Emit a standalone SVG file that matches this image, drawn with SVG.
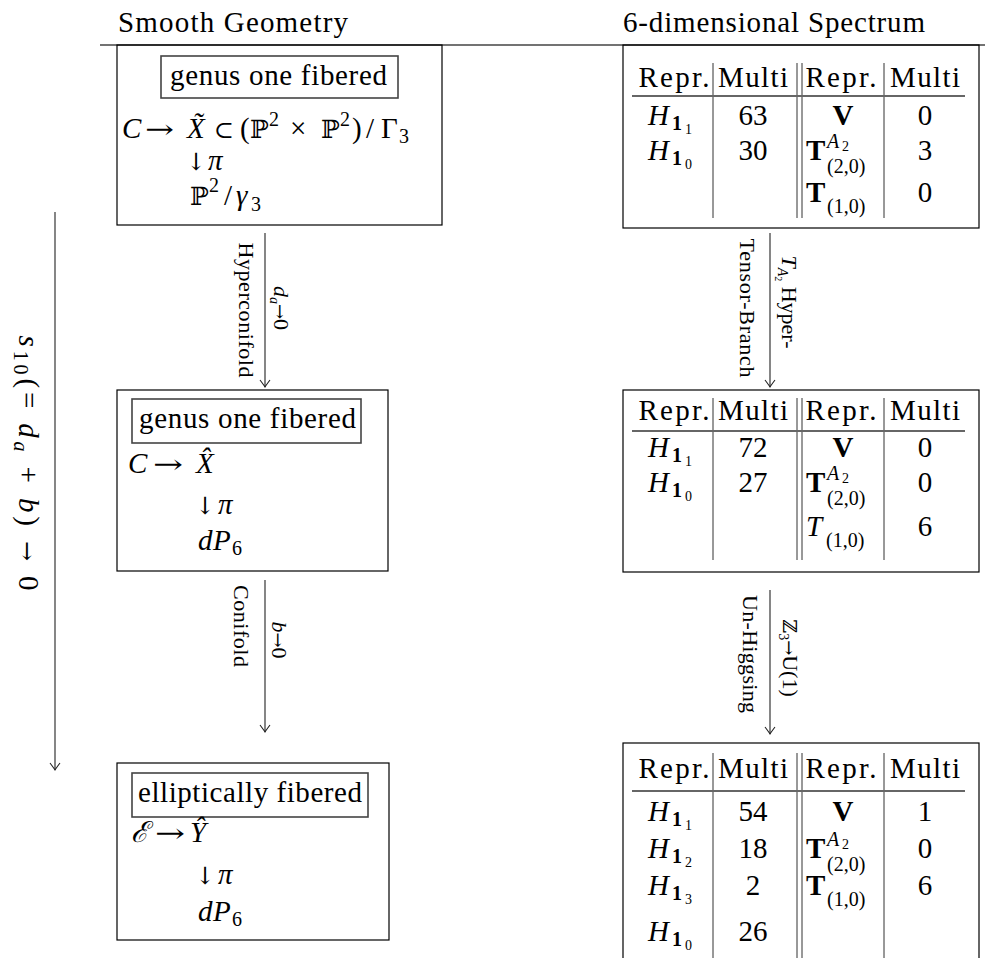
<svg xmlns="http://www.w3.org/2000/svg" width="985" height="958" viewBox="0 0 985 958" font-family="Liberation Serif, serif">
<defs>
<style>
text { font-family: "Liberation Serif", "DejaVu Serif", serif; fill: #000; }
.m { font-size: 29px; font-family: "Liberation Serif", serif; }
.sm { font-size: 20px; }
.xs { font-size: 14px; }
.lb { font-size: 22px; }
.it { font-style: italic; }
.bf { font-weight: bold; }
.dv { font-family: "DejaVu Serif", serif; }
.c { text-anchor: middle; }
.obox { fill: none; stroke: #000; stroke-width: 1.2; }
.ibox { fill: none; stroke: #444; stroke-width: 1.6; }
.rule { stroke: #444; stroke-width: 1.6; }
.vl { stroke: #333; stroke-width: 1; }
.hl { stroke: #666; stroke-width: 1.8; }
.conn { stroke: #222; stroke-width: 1.1; fill: none; marker-end: url(#ah); }
</style>
<marker id="ah" markerUnits="userSpaceOnUse" markerWidth="12" markerHeight="14" viewBox="-9 -7 10 14" refX="0" refY="0" orient="auto">
<path d="M-7,-5 Q-2,-1.2 0,0 Q-2,1.2 -7,5" fill="none" stroke="#222" stroke-width="1.1"/>
</marker>
</defs>
<rect x="0" y="0" width="985" height="958" fill="#fff"/>

<g id="headers">
<text class="m" x="118" y="32" textLength="230">Smooth Geometry</text>
<text class="m" x="623" y="32" textLength="302">6-dimensional Spectrum</text>
<line class="rule" x1="100" y1="45" x2="985" y2="45"/>
</g>

<g id="geo-top">
<rect class="obox" x="117" y="45" width="325" height="180"/>
<rect class="ibox" x="161" y="56" width="237" height="42"/>
<text class="m" x="170" y="85" textLength="217">genus one fibered</text>
<text class="m it" x="122" y="138">C</text>
<text class="dv" font-size="26" x="145" y="138" textLength="29" lengthAdjust="spacingAndGlyphs">→</text>
<text class="m it" x="187" y="138">X&#771;</text>
<text class="dv" font-size="24" x="214" y="138">⊂</text>
<text class="m" x="240" y="138">(</text>
<text class="dv" font-size="25" x="250" y="138">ℙ</text>
<text class="sm" x="269" y="126">2</text>
<text class="m" x="290" y="138">×</text>
<text class="dv" font-size="25" x="321" y="138">ℙ</text>
<text class="sm" x="340" y="126">2</text>
<text class="m" x="352" y="138">)</text>
<text class="m" x="366" y="138">/</text>
<text class="m" x="381" y="138">Γ</text>
<text class="sm" x="399" y="143">3</text>
<text class="dv" font-size="24" x="186" y="170">↓</text>
<text class="m it" x="208" y="170">π</text>
<text class="dv" font-size="25" x="190" y="205">ℙ</text>
<text class="sm" x="209" y="192">2</text>
<text class="m" x="224" y="205">/</text>
<text class="m it" x="236" y="205">γ</text>
<text class="sm" x="251" y="211">3</text>
</g>

<g id="geo-mid">
<rect class="obox" x="117" y="390" width="271" height="181"/>
<rect class="ibox" x="132" y="399" width="229" height="44"/>
<text class="m" x="139" y="428" textLength="217">genus one fibered</text>
<text class="m it" x="128" y="473">C</text>
<text class="dv" font-size="26" x="153" y="473" textLength="30" lengthAdjust="spacingAndGlyphs">→</text>
<text class="m it" x="196" y="473">X&#770;</text>
<text class="dv" font-size="24" x="195" y="514">↓</text>
<text class="m it" x="218" y="514">π</text>
<text class="m it" x="198" y="550">d</text>
<text class="m it" x="213" y="550">P</text>
<text class="sm" x="232" y="555">6</text>
</g>

<g id="geo-bot">
<rect class="obox" x="117" y="763" width="272" height="177"/>
<rect class="ibox" x="132" y="773" width="236" height="44"/>
<text class="m" x="138" y="802" textLength="224">elliptically fibered</text>
<text class="m it" x="131" y="842">ℰ</text>
<text class="dv" font-size="26" x="155" y="842" textLength="30" lengthAdjust="spacingAndGlyphs">→</text>
<text class="m it" x="190" y="842">Y&#770;</text>
<text class="dv" font-size="24" x="195" y="884">↓</text>
<text class="m it" x="218" y="884">π</text>
<text class="m it" x="198" y="921">d</text>
<text class="m it" x="213" y="921">P</text>
<text class="sm" x="232" y="926">6</text>
</g>

<g id="spec-top">
<rect class="obox" x="623" y="45" width="356" height="183"/>
<line class="vl" x1="713" y1="63" x2="713" y2="218"/>
<line class="vl" x1="797" y1="63" x2="797" y2="218"/>
<line class="vl" x1="802" y1="63" x2="802" y2="218"/>
<line class="vl" x1="884" y1="63" x2="884" y2="218"/>
<line class="hl" x1="632" y1="96" x2="965" y2="96"/>
<text class="m c" x="674" y="87" textLength="71">Repr.</text>
<text class="m c" x="753" y="87" textLength="70">Multi</text>
<text class="m c" x="841" y="87" textLength="71">Repr.</text>
<text class="m c" x="925" y="87" textLength="70">Multi</text>
<text class="m it" x="648" y="125">H</text><text class="sm bf" x="672" y="130">1</text><text class="xs" x="685" y="134">1</text>
<text class="m c" x="753" y="125">63</text>
<text class="m bf c" x="843" y="125">V</text>
<text class="m c" x="925" y="125">0</text>
<text class="m it" x="648" y="160">H</text><text class="sm bf" x="672" y="165">1</text><text class="xs" x="685" y="169">0</text>
<text class="m c" x="753" y="160">30</text>
<text class="m bf" x="806" y="160">T</text><text class="sm it" x="827" y="148">A</text><text class="xs" x="842" y="151">2</text><text class="sm" x="827" y="173">(2,0)</text>
<text class="m c" x="925" y="160">3</text>
<text class="m bf" x="806" y="202">T</text><text class="sm" x="827" y="213">(1,0)</text>
<text class="m c" x="925" y="202">0</text>
</g>

<g id="spec-mid">
<rect class="obox" x="623" y="390" width="356" height="182"/>
<line class="vl" x1="713" y1="398" x2="713" y2="560"/>
<line class="vl" x1="797" y1="398" x2="797" y2="560"/>
<line class="vl" x1="802" y1="398" x2="802" y2="560"/>
<line class="vl" x1="884" y1="398" x2="884" y2="560"/>
<line class="hl" x1="632" y1="431" x2="965" y2="431"/>
<text class="m c" x="674" y="420" textLength="71">Repr.</text>
<text class="m c" x="753" y="420" textLength="70">Multi</text>
<text class="m c" x="841" y="420" textLength="71">Repr.</text>
<text class="m c" x="925" y="420" textLength="70">Multi</text>
<text class="m it" x="648" y="457">H</text><text class="sm bf" x="672" y="462">1</text><text class="xs" x="685" y="466">1</text>
<text class="m c" x="753" y="457">72</text>
<text class="m bf c" x="843" y="457">V</text>
<text class="m c" x="925" y="457">0</text>
<text class="m it" x="648" y="492">H</text><text class="sm bf" x="672" y="497">1</text><text class="xs" x="685" y="501">0</text>
<text class="m c" x="753" y="492">27</text>
<text class="m bf" x="806" y="492">T</text><text class="sm it" x="827" y="480">A</text><text class="xs" x="842" y="483">2</text><text class="sm" x="827" y="505">(2,0)</text>
<text class="m c" x="925" y="492">0</text>
<text class="m it" x="806" y="536">T</text><text class="sm" x="826" y="547">(1,0)</text>
<text class="m c" x="925" y="536">6</text>
</g>

<g id="spec-bot">
<rect class="obox" x="623" y="743" width="356" height="240"/>
<line class="vl" x1="713" y1="753" x2="713" y2="958"/>
<line class="vl" x1="797" y1="753" x2="797" y2="958"/>
<line class="vl" x1="802" y1="753" x2="802" y2="958"/>
<line class="vl" x1="884" y1="753" x2="884" y2="958"/>
<line class="hl" x1="632" y1="791" x2="965" y2="791"/>
<text class="m c" x="674" y="778" textLength="71">Repr.</text>
<text class="m c" x="753" y="778" textLength="70">Multi</text>
<text class="m c" x="841" y="778" textLength="71">Repr.</text>
<text class="m c" x="925" y="778" textLength="70">Multi</text>
<text class="m it" x="648" y="821">H</text><text class="sm bf" x="672" y="826">1</text><text class="xs" x="685" y="830">1</text>
<text class="m c" x="753" y="821">54</text>
<text class="m bf c" x="843" y="821">V</text>
<text class="m c" x="925" y="821">1</text>
<text class="m it" x="648" y="858">H</text><text class="sm bf" x="672" y="863">1</text><text class="xs" x="685" y="867">2</text>
<text class="m c" x="753" y="858">18</text>
<text class="m bf" x="806" y="858">T</text><text class="sm it" x="827" y="846">A</text><text class="xs" x="842" y="849">2</text><text class="sm" x="827" y="871">(2,0)</text>
<text class="m c" x="925" y="858">0</text>
<text class="m it" x="648" y="895">H</text><text class="sm bf" x="672" y="900">1</text><text class="xs" x="685" y="904">3</text>
<text class="m c" x="753" y="895">2</text>
<text class="m bf" x="806" y="895">T</text><text class="sm" x="827" y="906">(1,0)</text>
<text class="m c" x="925" y="895">6</text>
<text class="m it" x="648" y="941">H</text><text class="sm bf" x="672" y="946">1</text><text class="xs" x="685" y="950">0</text>
<text class="m c" x="753" y="941">26</text>
</g>

<g id="connectors">
<line class="conn" x1="265" y1="233" x2="265" y2="387"/>
<line class="conn" x1="770" y1="233" x2="770" y2="387"/>
<line class="conn" x1="265" y1="580" x2="265" y2="732"/>
<line class="conn" x1="770" y1="590" x2="770" y2="734"/>
<line class="conn" x1="55" y1="212" x2="55" y2="770"/>
<text class="lb c" transform="translate(239,310) rotate(90)" textLength="135">Hyperconifold</text>
<text class="lb c" transform="translate(274,308) rotate(90)"><tspan class="it">d</tspan><tspan class="it xs" dy="4">a</tspan><tspan dy="-4" class="dv" font-size="18">→</tspan>0</text>
<text class="lb c" transform="translate(740,308) rotate(90)" textLength="139">Tensor-Branch</text>
<text class="lb c" transform="translate(782,302) rotate(90)"><tspan class="it">T</tspan><tspan class="it xs" dy="4">A</tspan><tspan font-size="10" dy="3">2</tspan><tspan dy="-7"> Hyper-</tspan></text>
<text class="lb c" transform="translate(234,626) rotate(90)" textLength="82">Conifold</text>
<text class="lb c" transform="translate(272,640) rotate(90)"><tspan class="it">b</tspan><tspan class="dv" font-size="18">→</tspan>0</text>
<text class="lb c" transform="translate(743,654) rotate(90)" textLength="118">Un-Higgsing</text>
<text class="lb c" transform="translate(783,658) rotate(90)"><tspan class="dv" font-size="19">ℤ</tspan><tspan class="xs" dy="4">3</tspan><tspan dy="-4" class="dv" font-size="18">→</tspan>U(1)</text>
<text class="m c" transform="translate(19,463) rotate(90)" textLength="255"><tspan class="it">s</tspan><tspan class="sm" dy="5">10</tspan><tspan dy="-5">(= </tspan><tspan class="it">d</tspan><tspan class="it sm" dy="5">a</tspan><tspan dy="-5"> + </tspan><tspan class="it">b</tspan>) <tspan class="dv" font-size="24">→</tspan> 0</text>
</g>
</svg>
